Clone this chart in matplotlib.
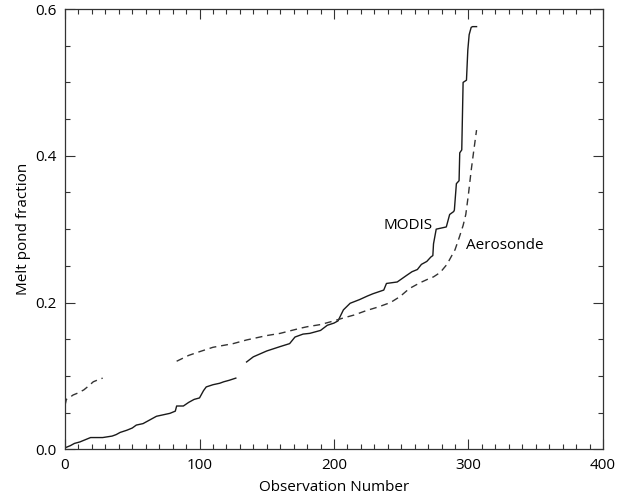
#!/usr/bin/env python3
"""Melt pond fraction vs observation number (MODIS vs Aerosonde)."""

import numpy as np
import matplotlib
matplotlib.use('Agg')
import matplotlib.pyplot as plt
from matplotlib.ticker import MultipleLocator

nan = np.nan

# MODIS (solid) - NaN marks the gap in the record
modis_x = [0, 4, 7, 11, 15, 19, 28, 35, 38, 41, 46, 50, 53, 58, 63, 68, 78, 82, 83, 88,
           92, 96, 100, 103, 105, 110, 115, 118, 122, 127, nan,
           135, 140, 145, 150, 155, 160, 167, 171, 177, 182, 190, 195, 200, 203, 207, 212,
           219, 225, 229, 237, 239, 247, 254, 258, 262, 265, 269, 272, 273.5, 274, 276,
           281, 283.5, 286, 289, 289.5, 291, 293, 293.5, 295, 296, 298.5, 299.5, 300.5,
           302, 303, 306]
modis_y = [0.002, 0.005, 0.008, 0.010, 0.013, 0.016, 0.016, 0.018, 0.020, 0.023, 0.026,
           0.029, 0.033, 0.035, 0.040, 0.045, 0.049, 0.052, 0.059, 0.059, 0.064, 0.068,
           0.070, 0.080, 0.085, 0.088, 0.090, 0.092, 0.094, 0.097, nan,
           0.119, 0.126, 0.130, 0.134, 0.137, 0.140, 0.144, 0.153, 0.157, 0.158, 0.162,
           0.169, 0.172, 0.175, 0.190, 0.199, 0.204, 0.209, 0.212, 0.217, 0.226, 0.228,
           0.237, 0.242, 0.245, 0.252, 0.256, 0.262, 0.264, 0.280, 0.300, 0.302, 0.303,
           0.320, 0.324, 0.326, 0.362, 0.366, 0.404, 0.408, 0.500, 0.503, 0.544, 0.565,
           0.575, 0.576, 0.576]

# Aerosonde (dashed)
aero_x = [0, 1, 3, 6, 10, 14, 18, 21, 25, 28, nan,
          83, 92, 100, 110, 125, 135, 150, 160, 175, 180, 190, 200, 207, 215, 224, 233,
          242, 249, 256, 264, 270, 274, 279, 284, 287, 290, 293, 296, 298, 300, 302, 304, 306]
aero_y = [0.060, 0.068, 0.070, 0.074, 0.077, 0.081, 0.087, 0.092, 0.095, 0.097, nan,
          0.120, 0.128, 0.133, 0.139, 0.144, 0.149, 0.155, 0.158, 0.165, 0.167, 0.170,
          0.175, 0.179, 0.183, 0.189, 0.194, 0.200, 0.208, 0.219, 0.227, 0.232, 0.235,
          0.241, 0.252, 0.262, 0.272, 0.288, 0.305, 0.320, 0.348, 0.380, 0.408, 0.435]

x_ticks = [0, 100, 200, 300, 400]
y_ticks = [0.0, 0.2, 0.4, 0.6]
y_ticklabels = ['0.0', '0.2', '0.4', '0.6']

plt.rcParams['font.family'] = ['Open Sans', 'DejaVu Sans']
plt.rcParams['font.size'] = 11

fig = plt.figure(figsize=(6.24, 4.98), dpi=100)
ax = fig.add_axes([0.1042, 0.0978, 0.8621, 0.8841])

ax.plot(modis_x, modis_y, color='#1a1a1a', linewidth=1.0)
ax.plot(aero_x, aero_y, color='#333333', linewidth=1.0, linestyle=(0, (5, 3.5)))

ax.text(273, 0.305, 'MODIS', ha='right', va='center', fontsize=11)
ax.text(298.5, 0.278, 'Aerosonde', ha='left', va='center', fontsize=11)

ax.set_xlim(0, 400)
ax.set_ylim(0, 0.6)
ax.set_xticks(x_ticks)
ax.set_yticks(y_ticks)
ax.set_yticklabels(y_ticklabels)
ax.xaxis.set_minor_locator(MultipleLocator(10))
ax.yaxis.set_minor_locator(MultipleLocator(0.05))
ax.tick_params(which='both', direction='in', top=True, right=True, width=0.8, color='#333333')
ax.tick_params(which='major', length=7, pad=6, labelsize=11)
ax.tick_params(which='minor', length=3.5)
for sp in ax.spines.values():
    sp.set_linewidth(0.9)
    sp.set_color('#333333')

ax.set_xlabel('Observation Number', fontsize=11, labelpad=5)
ax.set_ylabel('Melt pond fraction', fontsize=11, labelpad=3)

fig.savefig('out.png', dpi=100, facecolor='white')
